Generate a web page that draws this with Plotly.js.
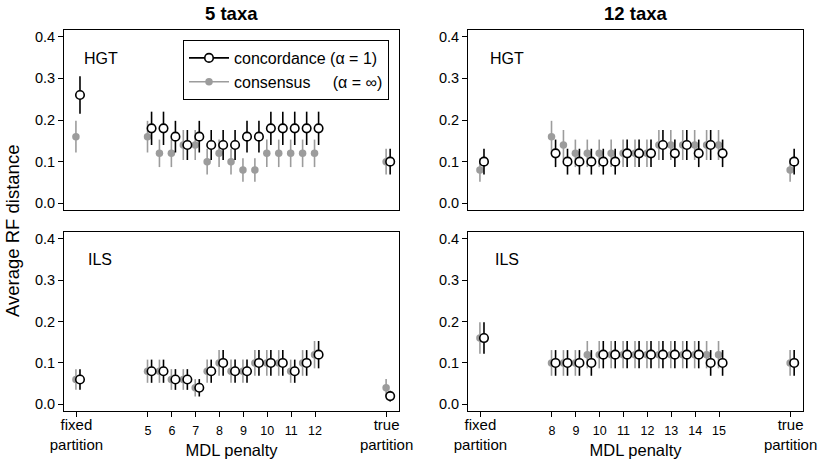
<!DOCTYPE html>
<html><head><meta charset="utf-8">
<script src="https://cdn.plot.ly/plotly-3.0.1.min.js"></script>
<style>html,body{margin:0;padding:0;background:#fff;} #chart{width:821px;height:459px;}</style>
</head><body><div id="chart"></div>
<script>
// x positions: fixed partition, MDL penalties, true partition
const xPos5  = [2, 5,5.5,6,6.5,7,7.5,8,8.5,9,9.5,10,10.5,11,11.5,12, 15];
const xPos12 = [5, 8,8.5,9,9.5,10,10.5,11,11.5,12,12.5,13,13.5,14,14.5,15, 18];

// tick labels
const tickVals5  = [2,5,6,7,8,9,10,11,12,15];
const tickVals12 = [5,8,9,10,11,12,13,14,15,18];
const numVals5   = [5,6,7,8,9,10,11,12];
const numVals12  = [8,9,10,11,12,13,14,15];
const fixedLabel = "fixed<br>partition";
const trueLabel  = "true<br>partition";

// HGT, 5 taxa
const hgt5Conc    = [0.26, 0.18,0.18,0.16,0.14,0.16,0.14,0.14,0.14,0.16,0.16,0.18,0.18,0.18,0.18,0.18, 0.10];
const hgt5ConcErr = [0.045,0.040,0.040,0.038,0.036,0.038,0.036,0.036,0.036,0.038,0.038,0.040,0.040,0.040,0.040,0.040,0.031];
const hgt5Cons    = [0.16, 0.16,0.12,0.12,0.14,0.14,0.10,0.12,0.10,0.08,0.08,0.12,0.12,0.12,0.12,0.12, 0.10];
const hgt5ConsErr = [0.038,0.038,0.033,0.033,0.036,0.036,0.031,0.033,0.031,0.028,0.028,0.033,0.033,0.033,0.033,0.033,0.031];

// HGT, 12 taxa
const hgt12Conc    = [0.10, 0.12,0.10,0.10,0.10,0.10,0.10,0.12,0.12,0.12,0.14,0.12,0.14,0.12,0.14,0.12, 0.10];
const hgt12ConcErr = [0.031,0.033,0.031,0.031,0.031,0.031,0.031,0.033,0.033,0.033,0.036,0.033,0.036,0.033,0.036,0.033,0.031];
const hgt12Cons    = [0.08, 0.16,0.14,0.12,0.12,0.12,0.12,0.12,0.12,0.12,0.14,0.14,0.14,0.14,0.14,0.14, 0.08];
const hgt12ConsErr = [0.028,0.038,0.036,0.033,0.033,0.033,0.033,0.033,0.033,0.033,0.036,0.036,0.036,0.036,0.036,0.036,0.028];

// ILS, 5 taxa
const ils5Conc    = [0.06, 0.08,0.08,0.06,0.06,0.04,0.08,0.10,0.08,0.08,0.10,0.10,0.10,0.08,0.10,0.12, 0.02];
const ils5ConcErr = [0.025,0.028,0.028,0.025,0.025,0.021,0.028,0.031,0.028,0.028,0.031,0.031,0.031,0.028,0.031,0.033,0.013];
const ils5Cons    = [0.06, 0.08,0.08,0.06,0.06,0.04,0.08,0.10,0.08,0.08,0.10,0.10,0.10,0.08,0.10,0.12, 0.04];
const ils5ConsErr = [0.025,0.028,0.028,0.025,0.025,0.021,0.028,0.031,0.028,0.028,0.031,0.031,0.031,0.028,0.031,0.033,0.021];

// ILS, 12 taxa
const ils12Conc    = [0.16, 0.10,0.10,0.10,0.10,0.12,0.12,0.12,0.12,0.12,0.12,0.12,0.12,0.12,0.10,0.10, 0.10];
const ils12ConcErr = [0.038,0.031,0.031,0.031,0.031,0.033,0.033,0.033,0.033,0.033,0.033,0.033,0.033,0.033,0.031,0.031,0.031];
const ils12Cons    = [0.16, 0.10,0.10,0.10,0.12,0.12,0.12,0.12,0.12,0.12,0.12,0.12,0.12,0.12,0.12,0.12, 0.10];
const ils12ConsErr = [0.038,0.031,0.031,0.031,0.033,0.033,0.033,0.033,0.033,0.033,0.033,0.033,0.033,0.033,0.033,0.033,0.031];

const FONT = "Liberation Sans, Arial, Helvetica, sans-serif";
const GRAY = "#9c9c9c";
const CONC_SHIFT = 0.15, CONS_SHIFT = -0.02;

function shift(arr, d){ return arr.map(v => v + d); }

function panel(xs, conc, concErr, cons, consErr, xa, ya){
  return [
    {type:'scatter', mode:'markers', x: shift(xs, CONS_SHIFT), y: cons, xaxis: xa, yaxis: ya, showlegend:false,
     marker:{color:GRAY, size:7.5, line:{width:0}},
     error_y:{type:'data', array: consErr, visible:true, color:GRAY, thickness:1.6, width:0}},
    {type:'scatter', mode:'markers', x: shift(xs, CONC_SHIFT), y: conc, xaxis: xa, yaxis: ya, showlegend:false,
     marker:{color:'white', size:8.5, line:{color:'black', width:1.6}},
     error_y:{type:'data', array: concErr, visible:true, color:'black', thickness:1.6, width:0}}
  ];
}

const data = [].concat(
  panel(xPos5,  hgt5Conc,  hgt5ConcErr,  hgt5Cons,  hgt5ConsErr,  'x',  'y'),
  panel(xPos12, hgt12Conc, hgt12ConcErr, hgt12Cons, hgt12ConsErr, 'x2', 'y2'),
  panel(xPos5,  ils5Conc,  ils5ConcErr,  ils5Cons,  ils5ConsErr,  'x3', 'y3'),
  panel(xPos12, ils12Conc, ils12ConcErr, ils12Cons, ils12ConsErr, 'x4', 'y4'),
  [
    // empty traces so the overlaid number axes are drawn
    {type:'scatter', mode:'markers', x:[null], y:[null], xaxis:'x5', yaxis:'y3', showlegend:false, hoverinfo:'skip'},
    {type:'scatter', mode:'markers', x:[null], y:[null], xaxis:'x6', yaxis:'y4', showlegend:false, hoverinfo:'skip'},
    {type:'scatter', mode:'lines+markers', x:[null], y:[null], xaxis:'x', yaxis:'y',
     name:'concordance (α = 1)', line:{color:'black', width:1.6},
     marker:{color:'white', size:8.5, line:{color:'black', width:1.6}}},
    {type:'scatter', mode:'lines+markers', x:[null], y:[null], xaxis:'x', yaxis:'y',
     name:'consensus\u00a0\u00a0\u00a0\u00a0\u00a0(α = ∞)', line:{color:GRAY, width:1.6},
     marker:{color:GRAY, size:7.5}}
  ]
);

const W = 821, H = 459;
const xdL = [64/W, 399/W], xdR = [468/W, 803/W];
const ydT = [1-210/H, 1-30/H], ydB = [1-411/H, 1-232/H];
const yRange = [-0.016, 0.416];
const yTicks = [0, 0.1, 0.2, 0.3, 0.4];
const yTickText = ["0.0","0.1","0.2","0.3","0.4"];

function yax(domain, anchor){
  return {domain, anchor, range:yRange, tickvals:yTicks, ticktext:yTickText, ticks:'outside', ticklen:5,
    tickwidth:1, tickcolor:'black', showline:true, linecolor:'black', linewidth:1, mirror:true,
    showgrid:false, zeroline:false, tickfont:{family:FONT, size:14.5, color:'black'}};
}
function xaxTop(domain, anchor, range){
  return {domain, anchor, range, showline:true, linecolor:'black', linewidth:1, mirror:true,
    showgrid:false, zeroline:false, showticklabels:false, ticks:''};
}
function xaxBot(domain, anchor, range, vals){
  const txt = vals.map((v,i) => i===0 ? fixedLabel : (i===vals.length-1 ? trueLabel : ''));
  return {domain, anchor, range, showline:true, linecolor:'black', linewidth:1, mirror:true,
    showgrid:false, zeroline:false, tickvals: vals, ticktext: txt, ticks:'outside', ticklen:5,
    tickwidth:1, tickcolor:'black', ticklabelstandoff:-5, tickfont:{family:FONT, size:15, color:'black'}};
}
function xaxNum(domain, anchor, overlay, range, vals){
  return {domain, anchor, overlaying: overlay, side:'bottom', range, showline:false, showgrid:false, zeroline:false,
    tickvals: vals, ticktext: vals.map(String), ticks:'', ticklabelstandoff: 10,
    tickfont:{family:FONT, size:12.5, color:'black'},
    title:{text:'MDL penalty', font:{family:FONT, size:16.5, color:'black'}, standoff: 7}};
}

const r5 = [1.48, 15.52], r12 = [4.48, 18.52];

const layout = {
  width: W, height: H,
  margin:{l:0, r:0, t:0, b:0},
  paper_bgcolor:'white', plot_bgcolor:'white',
  font:{family:FONT, color:'black'},
  xaxis: xaxTop(xdL, 'y', r5),
  yaxis: yax(ydT, 'x'),
  xaxis2: xaxTop(xdR, 'y2', r12),
  yaxis2: yax(ydT, 'x2'),
  xaxis3: xaxBot(xdL, 'y3', r5, tickVals5),
  yaxis3: yax(ydB, 'x3'),
  xaxis4: xaxBot(xdR, 'y4', r12, tickVals12),
  yaxis4: yax(ydB, 'x4'),
  xaxis5: xaxNum(xdL, 'y3', 'x3', r5, numVals5),
  xaxis6: xaxNum(xdR, 'y4', 'x4', r12, numVals12),
  showlegend: true,
  legend:{x:183/W, y:1-40/H, xanchor:'left', yanchor:'top', bgcolor:'white',
    bordercolor:'black', borderwidth:1, font:{family:FONT, size:16, color:'black'},
    tracegroupgap:0, itemwidth:40},
  annotations:[
    {text:'<b>5 taxa</b>', xref:'paper', yref:'paper', x:231/W, y:1-13/H, showarrow:false,
     xanchor:'center', yanchor:'middle', font:{family:FONT, size:18.5, color:'black'}},
    {text:'<b>12 taxa</b>', xref:'paper', yref:'paper', x:635.5/W, y:1-13/H, showarrow:false,
     xanchor:'center', yanchor:'middle', font:{family:FONT, size:18.5, color:'black'}},
    {text:'Average RF distance', xref:'paper', yref:'paper', x:12/W, y:1-231/H, showarrow:false,
     textangle:-90, xanchor:'center', yanchor:'middle', font:{family:FONT, size:18.5, color:'black'}},
    {text:'HGT', xref:'x domain', yref:'y domain', x:0.054, y:0.844, showarrow:false,
     xanchor:'left', yanchor:'middle', font:{family:FONT, size:16, color:'black'}},
    {text:'HGT', xref:'x2 domain', yref:'y2 domain', x:0.06, y:0.844, showarrow:false,
     xanchor:'left', yanchor:'middle', font:{family:FONT, size:16, color:'black'}},
    {text:'ILS', xref:'x3 domain', yref:'y3 domain', x:0.066, y:0.844, showarrow:false,
     xanchor:'left', yanchor:'middle', font:{family:FONT, size:16, color:'black'}},
    {text:'ILS', xref:'x4 domain', yref:'y4 domain', x:0.075, y:0.844, showarrow:false,
     xanchor:'left', yanchor:'middle', font:{family:FONT, size:16, color:'black'}}
  ]
};

Plotly.newPlot('chart', data, layout, {staticPlot:true, displayModeBar:false});
</script>
</body></html>
